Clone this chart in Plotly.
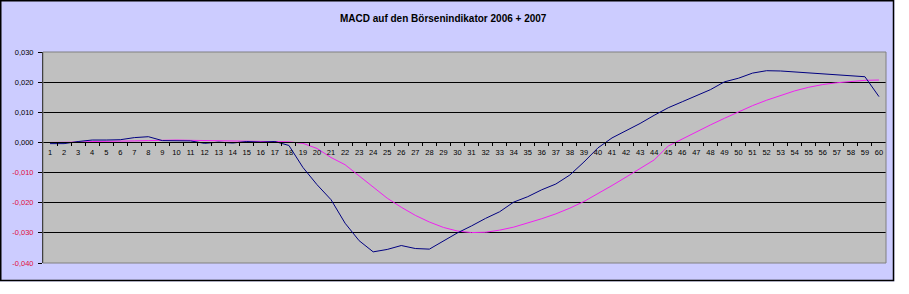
import plotly.graph_objects as go

categories = list(range(1, 61))

macd = [-0.0004, -0.0004, 0.0003, 0.0008, 0.0008, 0.0009, 0.0016, 0.0019, 0.0006, 0.0006,
        0.0005, -0.0003, 0.0001, -0.0002, 0.0003, 0.0001, 0.0003, -0.0010, -0.0083, -0.0140,
        -0.0190, -0.0268, -0.0326, -0.0363, -0.0355, -0.0342, -0.0352, -0.0354, -0.0328, -0.0300,
        -0.0277, -0.0252, -0.0230, -0.0198, -0.0180, -0.0157, -0.0138, -0.0108, -0.0065, -0.0018,
        0.0015, 0.0039, 0.0063, 0.0090, 0.0115, 0.0135, 0.0155, 0.0175, 0.0201, 0.0213,
        0.0230, 0.0238, 0.0237, 0.0234, 0.0229, 0.0227, 0.0223, 0.0220, 0.0218, 0.0152]

signal = [0.0000, 0.0000, 0.0001, 0.0003, 0.0003, 0.0004, 0.0005, 0.0006, 0.0008, 0.0008,
          0.0007, 0.0006, 0.0005, 0.0004, 0.0004, 0.0003, 0.0003, 0.0002, -0.0003, -0.0020,
          -0.0050, -0.0074, -0.0111, -0.0148, -0.0185, -0.0215, -0.0242, -0.0264, -0.0282, -0.0294,
          -0.0299, -0.0298, -0.0291, -0.0281, -0.0268, -0.0253, -0.0237, -0.0218, -0.0196, -0.0170,
          -0.0143, -0.0115, -0.0087, -0.0058, -0.0012, 0.0012, 0.0035, 0.0058, 0.0080, 0.0102,
          0.0122, 0.0140, 0.0156, 0.0171, 0.0183, 0.0192, 0.0198, 0.0203, 0.0206, 0.0207]

y_ticks = [0.03, 0.02, 0.01, 0.0, -0.01, -0.02, -0.03, -0.04]
y_labels = ["0,030", "0,020", "0,010", "0,000", "-0,010", "-0,020", "-0,030", "-0,040"]
title_text = "MACD auf den Börsenindikator 2006 + 2007"

ytext = [
    (f'<span style="color:#E0103C">{t}</span>' if v < 0 else t)
    for v, t in zip(y_ticks, y_labels)
]

fig = go.Figure()
fig.add_trace(go.Scatter(x=categories, y=signal, mode="lines",
                         line=dict(color="#F020F0", width=1), hoverinfo="skip"))
fig.add_trace(go.Scatter(x=categories, y=macd, mode="lines",
                         line=dict(color="#000080", width=1), hoverinfo="skip"))

W, H = 909, 294
L, R, T, B = 43, 886, 52, 263

def fx(px):
    return (px - L) / (R - L)

def fy(py):
    return (B - py) / (B - T)

ymin, ymax = -0.04, 0.03
zero_pos = (0 - ymin) / (ymax - ymin)

shapes = [
    dict(type="rect", xref="paper", yref="paper", x0=0, x1=1, y0=0, y1=1,
         line=dict(color="#808080", width=1), fillcolor="rgba(0,0,0,0)", layer="above"),
    dict(type="rect", xref="paper", yref="paper", x0=fx(894.5), x1=fx(W + 20), y0=fy(H + 20), y1=fy(-20),
         line=dict(width=0), fillcolor="white", layer="above"),
    dict(type="rect", xref="paper", yref="paper", x0=fx(-20), x1=fx(W + 20), y0=fy(H + 20), y1=fy(281.5),
         line=dict(width=0), fillcolor="white", layer="above"),
    dict(type="rect", xref="paper", yref="paper", x0=fx(0.75), x1=fx(893.5), y0=fy(280.5), y1=fy(0.75),
         line=dict(color="black", width=1.5), fillcolor="rgba(0,0,0,0)", layer="above"),
]

fig.update_layout(
    width=W, height=H,
    margin=dict(l=L, r=W - R, t=T, b=H - B, pad=0),
    paper_bgcolor="#CCCCFF",
    plot_bgcolor="#C0C0C0",
    showlegend=False,
    font=dict(family="Liberation Sans, Arial, sans-serif", size=8, color="black"),
    title=dict(text=f"<b>{title_text}</b>", x=fx(454), xanchor="center",
               y=1 - 18 / H, yanchor="middle",
               font=dict(size=10, family="Liberation Sans, Arial, sans-serif", color="black")),
    shapes=shapes,
    xaxis=dict(
        type="linear", range=[0.5, 60.5],
        tickvals=categories, ticktext=[str(c) for c in categories],
        showgrid=False, zeroline=False,
        showline=True, linecolor="black", linewidth=1,
        anchor="free", position=zero_pos,
        ticks="", tickfont=dict(size=7.5), ticklabelstandoff=3,
        minor=dict(tickvals=[c + 0.5 for c in categories[:-1]], ticks="outside",
                   ticklen=3, tickcolor="black", tickwidth=1, showgrid=False),
    ),
    yaxis=dict(
        range=[ymin, ymax], tickvals=y_ticks, ticktext=ytext,
        showgrid=True, gridcolor="black", gridwidth=1,
        zeroline=False, showline=True, linecolor="black", linewidth=1,
        ticks="outside", ticklen=4, tickcolor="black", tickfont=dict(size=7.5),
        ticklabelstandoff=3,
    ),
)

fig.write_html("out.html")
